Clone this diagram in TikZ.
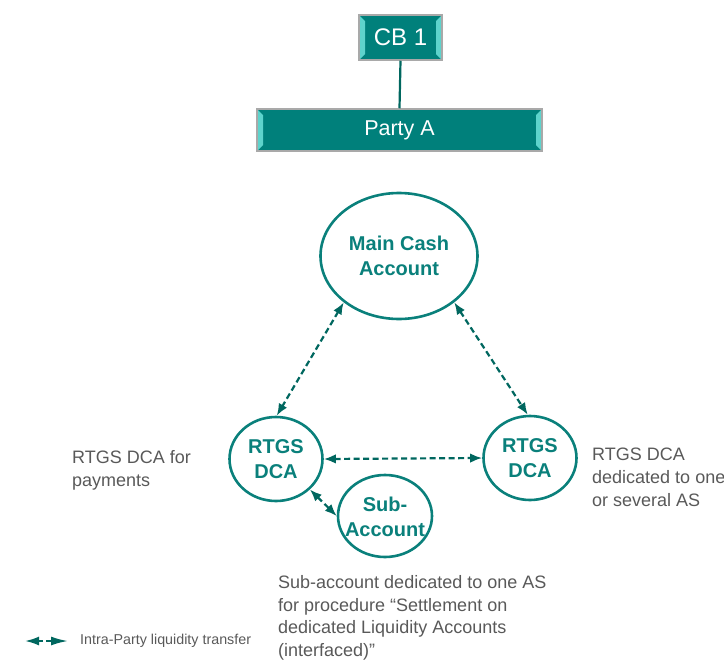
\documentclass[tikz,border=0pt]{standalone}
\usepackage{fontspec}
\setmainfont{Liberation Sans}
\usetikzlibrary{shapes.geometric,arrows.meta}

\definecolor{boxteal}{HTML}{00807B}
\definecolor{bevlight}{HTML}{5ED3CC}
\definecolor{boxgray}{HTML}{A9A9A9}
\definecolor{accteal}{HTML}{0A807B}
\definecolor{arrteal}{HTML}{00675F}
\definecolor{labgray}{HTML}{595959}

\tikzset{
  bevelbox/.style={draw=boxgray, line width=1.5pt, fill=boxteal, text=white,
    inner sep=0pt, rectangle,
    path picture={
      \fill[bevlight] (path picture bounding box.north west)
        -- ([xshift=6pt,yshift=-6pt]path picture bounding box.north west)
        -- ([xshift=6pt,yshift=6pt]path picture bounding box.south west)
        -- (path picture bounding box.south west) -- cycle;
      \fill[bevlight] (path picture bounding box.north east)
        -- ([xshift=-6pt,yshift=-6pt]path picture bounding box.north east)
        -- ([xshift=-6pt,yshift=6pt]path picture bounding box.south east)
        -- (path picture bounding box.south east) -- cycle;
    }},
  acct/.style={ellipse, draw=accteal, line width=2.6pt, inner sep=0pt},
  accttext/.style={text=accteal, align=center, inner sep=0pt,
    font=\fontsize{20}{24.5}\selectfont\bfseries},
  note/.style={text=labgray, align=left, inner sep=0pt, anchor=north west,
    font=\fontsize{18}{22.8}\selectfont},
  transfer/.style={draw=arrteal, line width=2.2pt, dash pattern=on 6pt off 3.5pt,
    {Latex[length=12pt,width=9.5pt]}-{Latex[length=12pt,width=9.5pt]}},
}

\begin{document}
\begin{tikzpicture}[x=1pt,y=-1pt]
  \useasboundingbox (0,0) rectangle (724,662);

  % hierarchy: central bank above the party
  \node[bevelbox, minimum width=83pt, minimum height=45pt,
        font=\fontsize{24}{28}\selectfont] (cb) at (400.5,37.5) {CB 1};
  \node[bevelbox, minimum width=285pt, minimum height=42pt,
        font=\fontsize{21.5}{25}\selectfont] (party) at (399.5,130) {Party A};
  \draw[draw=arrteal, line width=2.2pt] (cb.south) -- (party.north);

  % accounts of the party
  \node[acct, minimum width=157pt, minimum height=126pt] (mca) at (399,256) {};
  \node[accttext] (mcatext) at (mca) {Main Cash\\Account};

  \node[acct, minimum width=93pt, minimum height=84pt] (dcal) at (276,459) {};
  \node[accttext] (dcaltext) at (dcal) {RTGS\\DCA};

  \node[acct, minimum width=93pt, minimum height=84pt] (dcar) at (530,458) {};
  \node[accttext] (dcartext) at (dcar) {RTGS\\DCA};

  \node[acct, minimum width=94pt, minimum height=82pt] (sub) at (385,516) {};
  \node[accttext] (subtext) at ([yshift=-1pt]sub) {Sub-\\Account};

  % liquidity transfers
  \draw[transfer] (mca.220) -- (dcal.89);
  \draw[transfer] (mca.320) -- (dcar.93);
  \draw[transfer] (dcal.east) -- (dcar.west);
  \draw[transfer] (dcal.-42) -- (sub.180);

  % descriptions
  \node[note] (nleft) at (72,450) {RTGS DCA for\\payments};
  \node[note] (nright) at (592,448) {RTGS DCA\\dedicated to one\\or several AS};
  \node[note] (nsub) at (278,575) {Sub-account dedicated to one AS\\for procedure “Settlement on\\dedicated Liquidity Accounts\\(interfaced)”};

  % legend
  \coordinate (lga) at (25,641);
  \coordinate (lgb) at (68,641);
  \draw[draw=arrteal, line width=2pt, dash pattern=on 5pt off 3pt,
        {Latex[length=14pt,width=9pt]}-{Latex[length=17pt,width=9pt]}] (lga) -- (lgb);
  \node[text=labgray, anchor=west, inner sep=0pt,
        font=\fontsize{14.3}{17}\selectfont] (lgtext) at (80,641) {Intra-Party liquidity transfer};
\end{tikzpicture}
\end{document}
